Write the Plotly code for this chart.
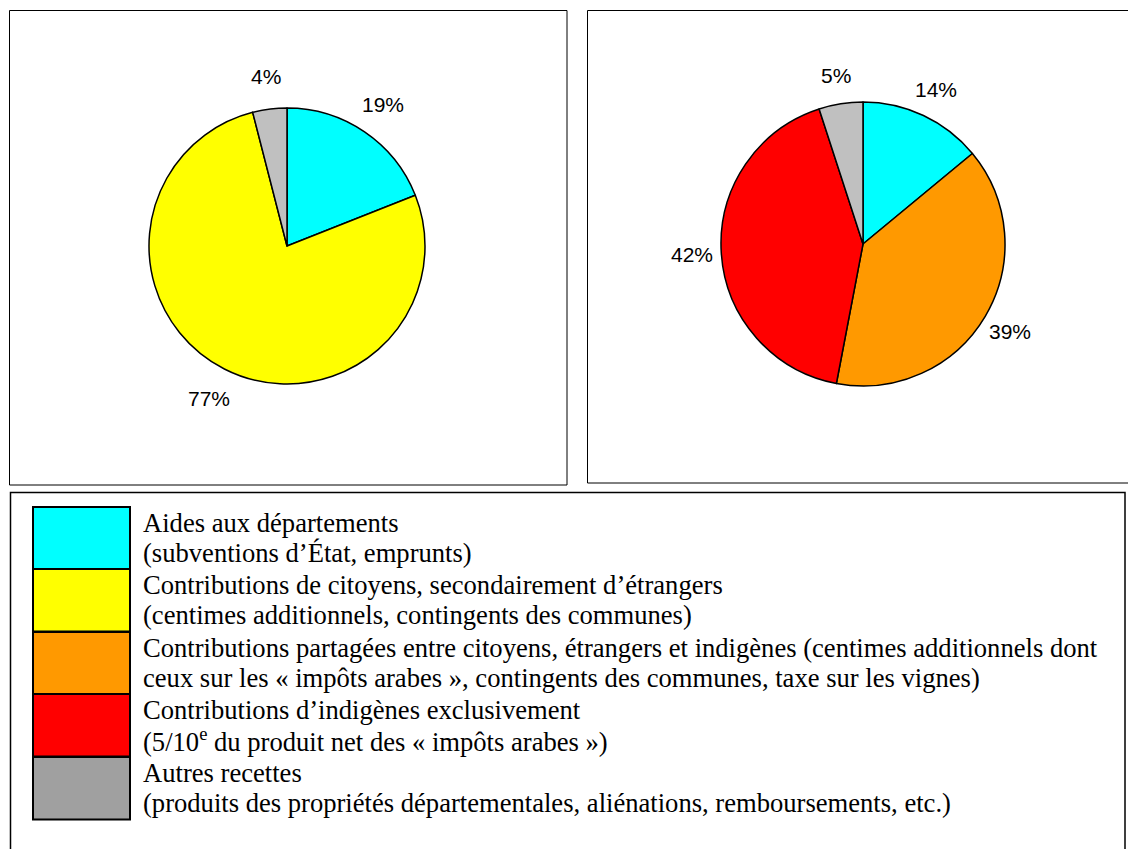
import math
import plotly.graph_objects as go

W, H = 1128, 849

# ---- data ----
categories_left = ["Aides aux départements", "Contributions de citoyens", "Autres recettes"]
values_left = [19, 77, 4]
colors_left = ["#00FFFF", "#FFFF00", "#C0C0C0"]

categories_right = ["Aides aux départements", "Contributions partagées",
                    "Contributions d'indigènes", "Autres recettes"]
values_right = [14, 39, 42, 5]
colors_right = ["#00FFFF", "#FF9900", "#FF0000", "#C0C0C0"]

legend_colors = ["#00FFFF", "#FFFF00", "#FF9900", "#FF0000", "#A0A0A0"]
legend_line1 = [
    "Aides aux départements",
    "Contributions de citoyens, secondairement d’étrangers",
    "Contributions partagées entre citoyens, étrangers et indigènes (centimes additionnels dont",
    "Contributions d’indigènes exclusivement",
    "Autres recettes",
]
legend_line2 = [
    "(subventions d’État, emprunts)",
    "(centimes additionnels, contingents des communes)",
    "ceux sur les « impôts arabes », contingents des communes, taxe sur les vignes)",
    "(5/10<sup>e</sup> du produit net des « impôts arabes »)",
    "(produits des propriétés départementales, aliénations, remboursements, etc.)",
]


def px(x):
    return x / W


def py(y):
    return 1 - y / H


def dom(cx, cy, r):
    return dict(x=[px(cx - r), px(cx + r)], y=[py(cy + r), py(cy - r)])


fig = go.Figure()

pie_font = dict(family="Liberation Sans, Arial, sans-serif", size=21, color="black")
annotations = []


def add_pie(labels, values, colors, cx, cy, r, label_r):
    fig.add_trace(go.Pie(
        labels=labels, values=values, sort=False, direction="clockwise",
        rotation=0, marker=dict(colors=colors, line=dict(color="black", width=1.5)),
        textinfo="none", domain=dom(cx, cy, r), showlegend=False, hoverinfo="skip",
    ))
    total = sum(values)
    cum = 0
    for v in values:
        mid = (cum + v / 2) / total * 2 * math.pi
        cum += v
        lx = cx + label_r * math.sin(mid)
        ly = cy - label_r * math.cos(mid)
        annotations.append(dict(xref="paper", yref="paper", x=px(lx), y=py(ly),
                                text=f"{round(v / total * 100)}%", showarrow=False,
                                xanchor="center", yanchor="middle", font=pie_font))


add_pie(categories_left, values_left, colors_left, 287, 246, 138, 171)
add_pie(categories_right, values_right, colors_right, 863, 244, 142, 171)

shapes = []
# panel frames
shapes.append(dict(type="rect", xref="paper", yref="paper",
                   x0=px(9.5), x1=px(567), y0=py(485), y1=py(10.5),
                   line=dict(color="black", width=1)))
shapes.append(dict(type="rect", xref="paper", yref="paper",
                   x0=px(587.5), x1=px(1140), y0=py(483), y1=py(10.5),
                   line=dict(color="black", width=1)))
shapes.append(dict(type="rect", xref="paper", yref="paper",
                   x0=px(10.5), x1=px(1125), y0=py(870), y1=py(492.5),
                   line=dict(color="black", width=1.5)))

row_tops = [507, 569, 632, 694, 757]
row_h = 62.5
text_font = dict(family="Liberation Serif, Times New Roman, serif", size=26.6, color="black")
for i, c in enumerate(legend_colors):
    top = row_tops[i]
    shapes.append(dict(type="rect", xref="paper", yref="paper",
                       x0=px(33), x1=px(130), y0=py(top + row_h), y1=py(top),
                       fillcolor=c, line=dict(color="black", width=2)))
    annotations.append(dict(xref="paper", yref="paper", x=px(141), y=py(top + 16),
                            text=legend_line1[i], showarrow=False, xanchor="left",
                            yanchor="middle", font=text_font))
    annotations.append(dict(xref="paper", yref="paper", x=px(141), y=py(top + 46),
                            text=legend_line2[i], showarrow=False, xanchor="left",
                            yanchor="middle", font=text_font))

fig.update_layout(
    width=W, height=H, margin=dict(l=0, r=0, t=0, b=0),
    paper_bgcolor="white", plot_bgcolor="white",
    shapes=shapes, annotations=annotations,
)

fig.write_html(
    "out.html",
    config={"displayModeBar": False},
    post_script="document.body.style.margin='0px';document.body.style.overflow='hidden';",
)
